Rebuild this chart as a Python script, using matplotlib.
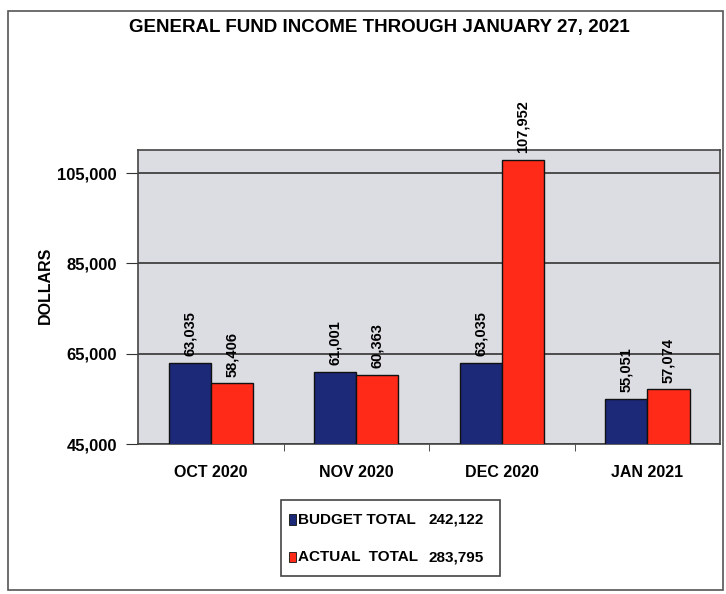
import numpy as np
import matplotlib.pyplot as plt
from matplotlib.patches import Rectangle

# Data
months = ['OCT 2020', 'NOV 2020', 'DEC 2020', 'JAN 2021']
budget = [63035, 61001, 63035, 55051]
actual = [58406, 60363, 107952, 57074]
budget_total = 242122
actual_total = 283795

plt.rcParams['font.family'] = ['Liberation Sans', 'DejaVu Sans']

navy = '#1c2878'
red = '#ff2a18'

fig = plt.figure(figsize=(7.26, 5.94), dpi=100)
ax = fig.add_axes([0.190, 0.2525, 0.802, 0.495])
ax.set_facecolor('#dcdde3')

x = np.arange(len(months))
w = 0.29
ax.bar(x - w / 2, budget, w, color=navy, edgecolor='#111111', linewidth=1, zorder=3)
ax.bar(x + w / 2, actual, w, color=red, edgecolor='#111111', linewidth=1, zorder=3)

for xi, b, a in zip(x, budget, actual):
    ax.text(xi - w / 2, b + 1500, f'{b:,}', rotation=90, ha='center', va='bottom',
            fontsize=10.5, fontweight='bold', zorder=4)
    ax.text(xi + w / 2, a + 1500, f'{a:,}', rotation=90, ha='center', va='bottom',
            fontsize=10.5, fontweight='bold', zorder=4, clip_on=False)

ax.set_xlim(-0.5, len(months) - 0.5)
ax.set_ylim(45000, 110100)
yt = [45000, 65000, 85000, 105000]
ax.set_yticks(yt)
ax.set_yticklabels([f'{v:,}' for v in yt], fontsize=12, fontweight='bold')
ax.set_xticks(x)
ax.set_xticklabels(months, fontsize=11.5, fontweight='bold')
ax.tick_params(axis='x', length=0, pad=15)
ax.set_xticks(np.arange(0.5, len(months) - 0.5, 1), minor=True)
ax.tick_params(axis='x', which='minor', length=5, direction='out', color='#333333')
ax.tick_params(axis='y', length=9, direction='out', color='#333333', pad=6)
ax.grid(axis='y', color='#333333', linewidth=1.2, zorder=1)
for s in ax.spines.values():
    s.set_color('#444444')
    s.set_linewidth(1.2)

fig.text(0.063, 0.52, 'DOLLARS', rotation=90, ha='center', va='center',
         fontsize=11.5, fontweight='bold')

fig.text(0.523, 0.953, 'GENERAL FUND INCOME THROUGH JANUARY 27, 2021', ha='center', va='center',
         fontsize=13.5, fontweight='bold')

# outer frame
fig.patches.append(Rectangle((0.011, 0.007), 0.985, 0.975, transform=fig.transFigure,
                             fill=False, edgecolor='#555555', linewidth=1.2))

# legend box
fig.patches.append(Rectangle((0.387, 0.03), 0.302, 0.128, transform=fig.transFigure,
                             fill=False, edgecolor='#444444', linewidth=1.2))
fig.patches.append(Rectangle((0.398, 0.117), 0.010, 0.017, transform=fig.transFigure,
                             facecolor=navy, edgecolor='#111111', linewidth=0.6))
fig.patches.append(Rectangle((0.398, 0.054), 0.010, 0.017, transform=fig.transFigure,
                             facecolor=red, edgecolor='#111111', linewidth=0.6))
fig.text(0.410, 0.125, 'BUDGET TOTAL', ha='left', va='center', fontsize=11, fontweight='bold')
fig.text(0.590, 0.125, f'{budget_total:,}', ha='left', va='center', fontsize=11, fontweight='bold')
fig.text(0.410, 0.062, 'ACTUAL  TOTAL', ha='left', va='center', fontsize=11, fontweight='bold')
fig.text(0.590, 0.062, f'{actual_total:,}', ha='left', va='center', fontsize=11, fontweight='bold')

fig.savefig('out.png', dpi=100, facecolor='white')
